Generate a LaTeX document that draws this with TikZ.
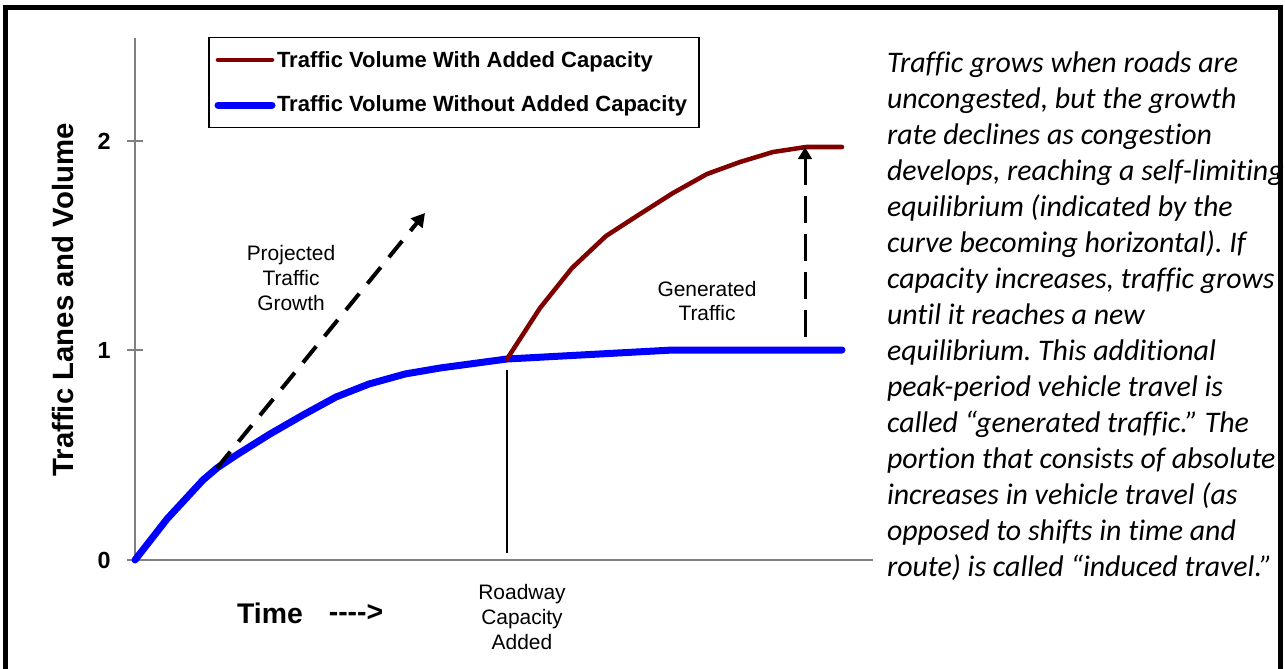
\documentclass[tikz,border=0pt]{standalone}
\usepackage{fontspec}
\setmainfont{Liberation Sans}
\newfontfamily\calib[Ligatures={NoCommon,NoContextual,NoRequired}]{Carlito}
\usetikzlibrary{arrows.meta}
\definecolor{axisgray}{RGB}{128,128,128}
\definecolor{withcap}{RGB}{128,0,0}
\definecolor{nocap}{RGB}{0,0,255}
\frenchspacing
\begin{document}
\begin{tikzpicture}[x=0.75pt,y=-0.75pt,
  every node/.style={inner sep=0pt, outer sep=0pt},
  frameline/.style={draw=black, line width=3.75pt, line join=miter},
  axisline/.style={draw=axisgray, line width=1.5pt},
  ticklabel/.style={font=\fontsize{17.5}{18}\selectfont\bfseries},
  ylabel/.style={font=\fontsize{22}{24}\selectfont\bfseries, rotate=90},
  bigbold/.style={font=\fontsize{21.3}{24}\selectfont\bfseries},
  legendbox/.style={draw=black, line width=0.9pt, minimum width=367.5pt, minimum height=67.5pt},
  legendtext/.style={font=\fontsize{16.5}{18}\selectfont\bfseries, anchor=base west},
  annot/.style={font=\fontsize{15.7}{18.4}\selectfont, align=center},
  para/.style={font=\calib\itshape\fontsize{22.4}{27}\selectfont, align=left, anchor=north west},
  blueline/.style={draw=nocap, line width=5.25pt, line join=round, line cap=round},
  redline/.style={draw=withcap, line width=3.4pt, line join=round, line cap=round},
  caplineblk/.style={draw=black, line width=1.1pt},
  genarrow/.style={draw=black, line width=2.25pt, dash pattern=on 20pt off 8.5pt, -{Triangle[length=9pt,width=10pt]}},
  projarrow/.style={draw=black, line width=3pt, dash pattern=on 15.75pt off 9.75pt, -{Triangle[length=10pt,width=11pt]}}
]
\useasboundingbox (0,0) rectangle (1285,668);
% frame
\coordinate (fbl) at (5.5,670);
\coordinate (ftl) at (5.5,7.5);
\coordinate (ftr) at (1280,7.5);
\coordinate (fbr) at (1280,670);
\draw[frameline] (fbl) -- (ftl) -- (ftr) -- (fbr);
% axes
\coordinate (ytop) at (135,38);
\coordinate (origin) at (135,560);
\coordinate (xleft) at (127,560);
\coordinate (xend) at (873,560);
\draw[axisline] (ytop) -- (origin);
\draw[axisline] (xleft) -- (xend);
\coordinate (t1a) at (127,350); \coordinate (t1b) at (143,350);
\coordinate (t2a) at (127,141); \coordinate (t2b) at (143,141);
\draw[axisline] (t1a) -- (t1b);
\draw[axisline] (t2a) -- (t2b);
\node[ticklabel] (lab2) at (104,141) {2};
\node[ticklabel] (lab1) at (104,350) {1};
\node[ticklabel] (lab0) at (104,560) {0};
\node[ylabel] (ylab) at (63,300) {Traffic Lanes and Volume};
% legend
\node[legendbox] (legend) at (454,82.5) {};
\coordinate (lr1) at (218,60); \coordinate (lr2) at (272,60);
\coordinate (lb1) at (218,105); \coordinate (lb2) at (272,105);
\draw[redline] (lr1) -- (lr2);
\draw[blueline] (lb1) -- (lb2);
\node[legendtext] (legred) at (277,67) {Traffic Volume With Added Capacity};
\node[legendtext] (legblue) at (277,111) {Traffic Volume Without Added Capacity};
% curves
\coordinate (b0) at (135,560);
\coordinate (bsplit) at (507,359);
\coordinate (bend) at (842,350);
\coordinate (pstart) at (217,468);
\draw[blueline] (b0) -- (167,519) -- (203,480) -- (pstart) -- (238,454) -- (270,434) -- (303,415) -- (336,397) -- (369,384) -- (405,374) -- (440,368) -- (bsplit) -- (673,350) -- (bend);
\coordinate (rend) at (842,147);
\draw[redline] (bsplit) -- (540,308) -- (572,268) -- (606,236) -- (640,214) -- (673,193) -- (707,174) -- (740,162) -- (773,152) -- (806,147) -- (rend);
% capacity marker
\coordinate (captop) at (507,370);
\coordinate (capbot) at (507,553);
\draw[caplineblk] (captop) -- (capbot);
% arrows
\coordinate (gbot) at (805,337);
\coordinate (gtop) at (805,147);
\draw[genarrow] (gbot) -- (gtop);
\coordinate (ptip) at (425,213);
\draw[projarrow] (pstart) -- (ptip);
% annotations
\node[annot] (proj) at (291,278) {Projected\\Traffic\\Growth};
\node[annot] (gen) at (707,301) {Generated\\Traffic};
\node[annot, font=\fontsize{15.7}{19.1}\selectfont] (road) at (522,617) {Roadway\\Capacity\\Added};
\node[bigbold] (time) at (270,613) {Time};
\node[bigbold] (arr) at (356,613) {-{}-{}-{}-{}>};
% paragraph
\node[para] (text) at (887,52) {Traffic grows when roads are\\
uncongested, but the growth\\
rate declines as congestion\\
develops, reaching a self-limiting\\
equilibrium (indicated by the\\
curve becoming horizontal). If\\
capacity increases, traffic grows\\
until it reaches a new\\
equilibrium. This additional\\
peak-period vehicle travel is\\
called “generated traffic.” The\\
portion that consists of absolute\\
increases in vehicle travel (as\\
opposed to shifts in time and\\
route) is called “induced travel.”};
\end{tikzpicture}
\end{document}
